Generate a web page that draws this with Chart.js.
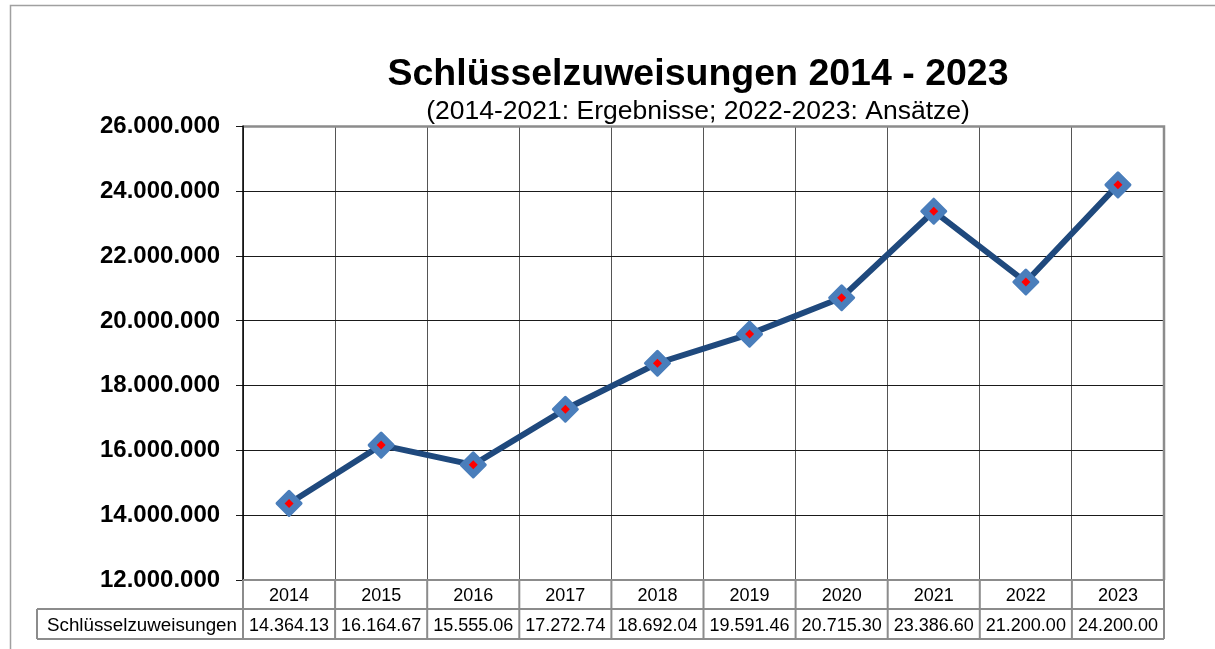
<!DOCTYPE html>
<html><head><meta charset="utf-8">
<script src="https://cdn.jsdelivr.net/npm/chart.js@4.4.1/dist/chart.umd.min.js"></script>
<style>html,body{margin:0;padding:0;background:#fff;} canvas{display:block;}</style>
</head><body>
<canvas id="c" width="1215" height="649" style="width:1215px;height:649px"></canvas>
<script>
const categories = ['2014','2015','2016','2017','2018','2019','2020','2021','2022','2023'];
const seriesName = 'Schlüsselzuweisungen';
const values = [14364130, 16164670, 15555060, 17272740, 18692040, 19591460, 20715300, 23386600, 21200000, 24200000];
const yTicks = [12000000, 14000000, 16000000, 18000000, 20000000, 22000000, 24000000, 26000000];
const titleText = 'Schlüsselzuweisungen 2014 - 2023';
const subtitleText = '(2014-2021: Ergebnisse; 2022-2023: Ansätze)';

const FONT = '"Liberation Sans", Arial, sans-serif';
function fmt(n){ return String(Math.round(n)).replace(/\B(?=(\d{3})+(?!\d))/g,'.'); }

const PAD_LEFT = 232;
const AXIS_LEFT = 243;
const LABEL_LEFT = 100;

const framePlugin = {
  id: 'frame',
  beforeDraw(chart){
    const ctx = chart.ctx;
    ctx.save();
    ctx.fillStyle = '#fff';
    ctx.fillRect(0,0,chart.width,chart.height);
    ctx.strokeStyle = '#a0a0a0';
    ctx.lineWidth = 1.5;
    ctx.beginPath();
    ctx.moveTo(10.5, chart.height);
    ctx.lineTo(10.5, 5.5);
    ctx.lineTo(chart.width, 5.5);
    ctx.stroke();
    ctx.restore();
  },
  beforeDatasetsDraw(chart){
    const ctx = chart.ctx, a = chart.chartArea;
    ctx.save();
    ctx.strokeStyle = '#8c8c8c';
    ctx.lineWidth = 2.5;
    ctx.beginPath();
    ctx.moveTo(a.left, a.top);
    ctx.lineTo(a.right, a.top);
    ctx.lineTo(a.right, a.bottom);
    ctx.stroke();
    ctx.strokeStyle = '#000';
    ctx.lineWidth = 1.5;
    ctx.beginPath();
    ctx.moveTo(a.left, a.top - 1);
    ctx.lineTo(a.left, a.bottom);
    ctx.stroke();
    ctx.restore();
    ctx.lineJoin = 'round';
  },
  afterDraw(chart){
    const ctx = chart.ctx, a = chart.chartArea, x = chart.scales.x;
    const half = (x.getPixelForValue(1) - x.getPixelForValue(0)) / 2;
    const r1t = a.bottom, r1b = 609, r2b = 639, labelLeft = 37;
    ctx.save();
    ctx.strokeStyle = '#8c8c8c';
    ctx.lineWidth = 2;
    ctx.beginPath();
    ctx.moveTo(a.left, r1t); ctx.lineTo(a.right, r1t);
    ctx.moveTo(labelLeft, r1b); ctx.lineTo(a.right, r1b);
    ctx.moveTo(labelLeft, r2b); ctx.lineTo(a.right, r2b);
    ctx.moveTo(labelLeft, r1b); ctx.lineTo(labelLeft, r2b);
    for (let i = 0; i <= categories.length; i++) {
      const bx = x.getPixelForValue(0) - half + i * 2 * half;
      ctx.moveTo(bx, r1t); ctx.lineTo(bx, r2b);
    }
    ctx.stroke();
    ctx.fillStyle = '#000';
    ctx.textBaseline = 'alphabetic';
    ctx.textAlign = 'left';
    ctx.font = '18.8px ' + FONT;
    ctx.fillText(seriesName, 47, 631);
    ctx.font = '18px ' + FONT;
    ctx.textAlign = 'center';
    categories.forEach((c, i) => {
      const cx = x.getPixelForValue(i);
      ctx.fillText(c, cx, 601);
      let s = fmt(values[i]);
      while (ctx.measureText(s).width > 2 * half - 6) s = s.slice(0, -1);
      ctx.fillText(s, cx, 631);
    });
    ctx.restore();
  }
};

new Chart(document.getElementById('c'), {
  type: 'line',
  data: {
    labels: categories,
    datasets: [
      {
        label: seriesName,
        data: values,
        order: 1,
        borderColor: '#1f497d',
        borderWidth: 6,
        pointStyle: 'rectRot',
        pointRadius: 12,
        pointBackgroundColor: '#4a7ebb',
        pointBorderColor: '#4a7ebb',
        pointBorderWidth: 3,
        tension: 0
      },
      {
        label: seriesName + ' marker',
        data: values,
        order: 0,
        showLine: false,
        pointStyle: 'rectRot',
        pointRadius: 4.5,
        pointBackgroundColor: '#ff0000',
        pointBorderColor: '#ff0000',
        pointBorderWidth: 0
      }
    ]
  },
  options: {
    responsive: false,
    devicePixelRatio: 1,
    animation: false,
    events: [],
    layout: { padding: { left: PAD_LEFT, top: 0, right: 51, bottom: 0 } },
    plugins: {
      legend: { display: false },
      tooltip: { enabled: false },
      title: {
        display: true, text: titleText,
        color: '#000', font: { family: FONT, size: 37.5, weight: 'bold', lineHeight: 1.2 },
        padding: { top: 52, bottom: 0 }
      },
      subtitle: {
        display: true, text: subtitleText,
        color: '#000', font: { family: FONT, size: 26.5, weight: 'normal', lineHeight: 1.1 },
        padding: { top: 0, bottom: 0.4 }
      }
    },
    scales: {
      x: {
        offset: true,
        grid: { offset: true, color: '#555', lineWidth: 1, drawTicks: false },
        border: { display: false },
        ticks: { display: false },
        afterFit(scale){ scale.height = 69; }
      },
      y: {
        min: yTicks[0], max: yTicks[yTicks.length - 1],
        afterBuildTicks(scale){ scale.ticks = yTicks.map(v => ({ value: v })); },
        grid: { color: '#1a1a1a', lineWidth: 1, tickLength: 7, drawTicks: true },
        border: { display: false },
        ticks: {
          mirror: true,
          padding: LABEL_LEFT - AXIS_LEFT, color: '#000',
          font: { family: FONT, size: 24, weight: 'bold' },
          callback: v => fmt(v)
        },
        afterFit(scale){ scale.width = AXIS_LEFT - PAD_LEFT; }
      }
    }
  },
  plugins: [framePlugin]
});
</script>
</body></html>
